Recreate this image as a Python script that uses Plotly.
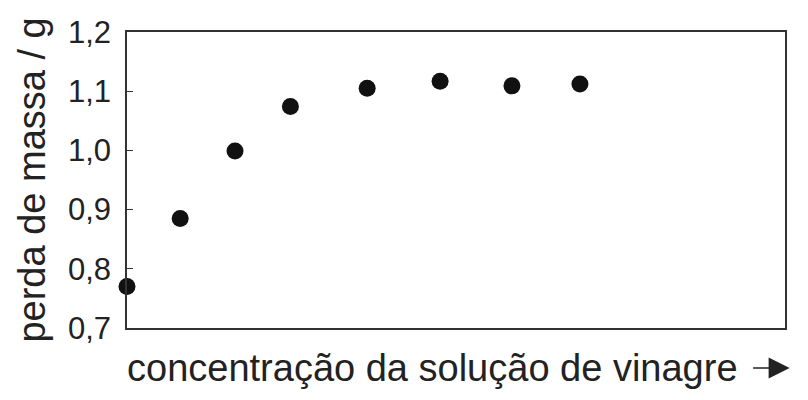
import plotly.graph_objects as go

# concentration (arbitrary units, no scale on the axis) and mass loss in g
concentracao = [0.0, 0.97, 1.97, 2.98, 4.38, 5.71, 7.02, 8.26]
perda_massa = [0.770, 0.885, 0.999, 1.074, 1.105, 1.117, 1.109, 1.112]

ytick_vals = [0.7, 0.8, 0.9, 1.0, 1.1, 1.2]
ytick_text = ["0,7", "0,8", "0,9", "1,0", "1,1", "1,2"]

ink = "#222222"

fig = go.Figure()
fig.add_trace(go.Scatter(x=concentracao, y=perda_massa, mode="markers",
                         marker=dict(size=17, color="#111111"),
                         cliponaxis=False, showlegend=False))

# page body has an 8px margin, so the plot box is shifted up/left by 8px
fig.update_layout(
  width=808, height=400,
  margin=dict(l=119, r=31, t=24, b=80),
  paper_bgcolor="white", plot_bgcolor="white",
  font=dict(family="Liberation Sans, Arial, sans-serif", color=ink),
  xaxis=dict(range=[0, 12], showticklabels=False, ticks="", showgrid=False,
             zeroline=False, showline=True, linecolor="#333333", linewidth=1.5,
             mirror=True),
  yaxis=dict(range=[0.7, 1.2], tickvals=ytick_vals, ticktext=ytick_text,
             ticks="inside", ticklen=6, tickcolor="#333333", tickwidth=1,
             ticklabelstandoff=8, automargin=False,
             tickfont=dict(size=31, color=ink), showgrid=False, zeroline=False,
             showline=True, linecolor="#333333", linewidth=1.5, mirror=True),
)

# axis titles as annotations for exact placement
fig.add_annotation(text="perda de massa / g", xref="paper", yref="paper",
                   x=-0.145, y=0.5, textangle=-90, showarrow=False,
                   xanchor="center", yanchor="middle",
                   font=dict(size=38, color=ink))
fig.add_annotation(text="concentração da solução de vinagre", xref="paper", yref="paper",
                   x=-0.003, y=-0.135, showarrow=False, xanchor="left", yanchor="middle",
                   font=dict(size=38, color=ink))
# arrow after the x title
fig.add_annotation(text="", xref="paper", yref="paper", x=1.007, y=-0.135,
                   ax=-38, ay=0, showarrow=True, arrowhead=2, arrowsize=2.8,
                   arrowwidth=1.5, arrowcolor=ink)

fig.write_html("out.html")
